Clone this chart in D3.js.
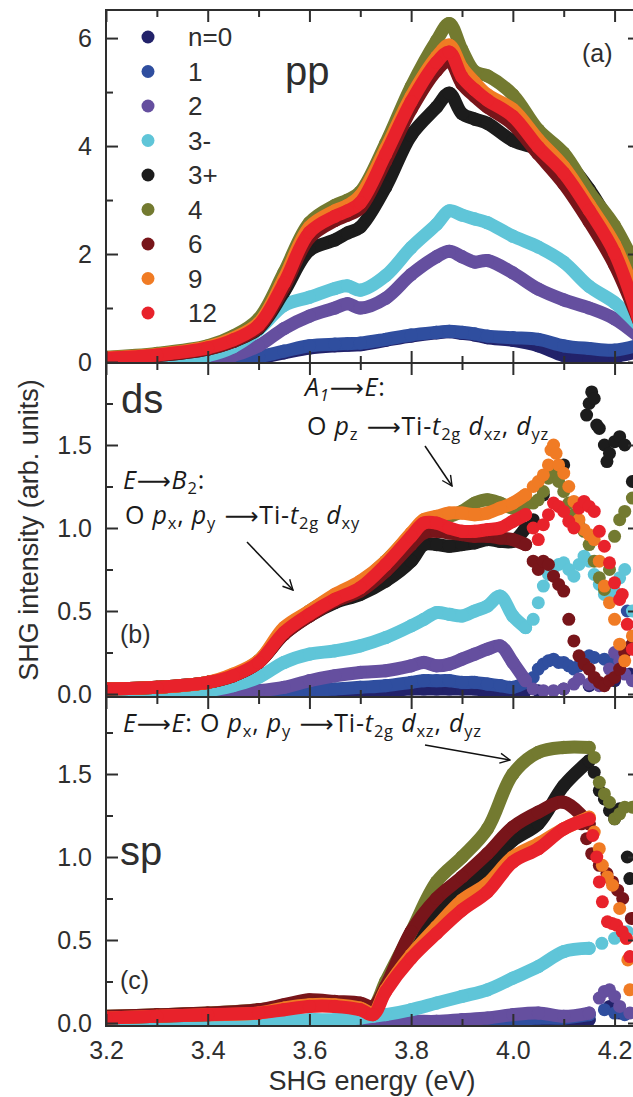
<!DOCTYPE html>
<html><head><meta charset="utf-8">
<script src="https://cdn.jsdelivr.net/npm/d3@7"></script>
<style>html,body{margin:0;padding:0;background:#fff;} svg{display:block;}</style>
</head><body><svg id="chart" width="633" height="1097"></svg>
<script>
// ---------------- DATA ----------------
const seriesNames  = ["n=0","1","2","3-","3+","4","6","9","12"];
const seriesColors = ["#22226a","#2f4e9f","#654f9f","#5fc5d8","#1c1c1c","#737a30","#78151a","#f07b24","#e8222b"];

const xTickLabels = ["3.2","3.4","3.6","3.8","4.0","4.2"];
const ppTickLabels = ["0","2","4","6"];
const dsTickLabels = ["0.0","0.5","1.0","1.5"];
const spTickLabels = ["0.0","0.5","1.0","1.5"];

// (a) pp
const energyPP = [3.20,3.30,3.40,3.45,3.50,3.55,3.60,3.65,3.675,3.70,3.75,3.80,3.85,3.875,3.90,3.925,3.95,4.00,4.05,4.10,4.15,4.20,4.25];
const ppValues = [
  [0.00,0.00,0.01,0.03,0.08,0.17,0.26,0.30,0.31,0.32,0.40,0.48,0.54,0.56,0.53,0.50,0.45,0.40,0.30,0.12,0.05,0.10,0.20], // n=0
  [0.00,0.00,0.02,0.04,0.10,0.20,0.30,0.33,0.34,0.35,0.42,0.50,0.55,0.57,0.55,0.52,0.48,0.45,0.42,0.30,0.25,0.22,0.32], // 1
  [0.00,0.02,0.06,0.12,0.30,0.62,0.85,1.00,1.08,1.00,1.18,1.62,1.95,2.05,1.95,1.85,1.88,1.65,1.35,1.15,1.00,0.80,0.45], // 2
  [0.02,0.05,0.12,0.28,0.60,1.05,1.20,1.36,1.41,1.33,1.60,2.12,2.55,2.80,2.72,2.65,2.58,2.33,2.13,1.85,1.40,1.10,0.65], // 3-
  [0.07,0.12,0.24,0.38,0.62,1.30,2.07,2.26,2.39,2.50,3.24,4.20,4.72,4.98,4.60,4.50,4.42,4.10,3.95,3.75,3.20,2.40,1.40], // 3+
  [0.09,0.16,0.30,0.48,0.80,1.66,2.58,2.90,3.00,3.15,4.05,5.10,5.95,6.27,5.78,5.38,5.30,4.95,4.30,3.87,3.15,2.52,1.60], // 4
  [0.07,0.12,0.24,0.38,0.64,1.38,2.30,2.62,2.72,2.85,3.72,4.68,5.40,5.58,5.15,4.92,4.72,4.40,3.85,3.30,2.60,1.80,0.70], // 6
  [0.08,0.14,0.28,0.44,0.72,1.55,2.50,2.80,2.90,3.08,3.95,4.92,5.65,5.87,5.45,5.18,4.95,4.68,4.12,3.62,2.92,2.18,1.00], // 9
  [0.07,0.13,0.26,0.41,0.68,1.46,2.40,2.70,2.80,2.95,3.85,4.82,5.55,5.74,5.28,5.04,4.85,4.55,3.98,3.50,2.81,2.02,0.70]  // 12
];

// (b) ds
const energyDS = [3.20,3.30,3.40,3.45,3.50,3.55,3.60,3.65,3.70,3.75,3.80,3.825,3.85,3.875,3.90,3.925,3.95,3.975,4.00,4.025];
const dsValues = [
  [0,0,0,0,0,0,0.01,0.01,0.02,0.02,0.03,0.03,0.03,0.03,0.03,0.03,0.02,0.02,0.02,0.02],
  [0,0,0,0,0,0.01,0.02,0.03,0.04,0.05,0.07,0.08,0.08,0.08,0.07,0.07,0.06,0.05,0.04,0.07],
  [0,0,0,0.01,0.02,0.04,0.08,0.11,0.13,0.14,0.17,0.19,0.17,0.18,0.21,0.24,0.27,0.29,0.19,0.08],
  [0,0.01,0.02,0.05,0.10,0.19,0.24,0.26,0.29,0.34,0.41,0.45,0.49,0.48,0.47,0.50,0.53,0.59,0.47,0.40],
  [0.03,0.04,0.07,0.11,0.19,0.36,0.47,0.55,0.60,0.68,0.80,0.90,0.90,0.89,0.90,0.91,0.93,0.92,0.92,1.00],
  [0.03,0.04,0.07,0.11,0.20,0.38,0.50,0.59,0.67,0.80,0.96,1.03,1.05,1.07,1.10,1.15,1.17,1.15,1.12,1.14],
  [0.03,0.04,0.07,0.11,0.19,0.36,0.47,0.56,0.62,0.74,0.90,0.97,0.98,0.97,0.96,0.95,0.95,0.94,0.93,0.90],
  [0.03,0.04,0.07,0.12,0.20,0.40,0.50,0.60,0.68,0.80,0.97,1.05,1.07,1.09,1.09,1.08,1.09,1.12,1.15,1.20],
  [0.03,0.04,0.07,0.11,0.19,0.37,0.48,0.57,0.64,0.78,0.95,1.03,1.03,1.00,0.98,0.98,0.99,1.00,1.04,1.08]
];
// scattered high-energy points (ds), [energy, intensity]
const dsScatter = [
  [[4.05,0.02],[4.10,0.03],[4.15,0.05],[4.20,0.08],[4.23,0.12]],
  [[4.04,0.10],[4.05,0.15],[4.06,0.18],[4.07,0.20],[4.08,0.21],[4.09,0.19],[4.10,0.19],[4.11,0.17],[4.12,0.15],[4.13,0.17],[4.14,0.20],[4.15,0.23],[4.16,0.22],[4.18,0.21],[4.20,0.19],[4.21,0.22],[4.225,0.50],[4.235,0.30]],
  [[4.04,0.03],[4.06,0.02],[4.08,0.02],[4.10,0.03],[4.12,0.06],[4.13,0.09],[4.15,0.06],[4.17,0.05],[4.19,0.15],[4.20,0.25],[4.21,0.20],[4.22,0.12],[4.235,0.08]],
  [[4.04,0.45],[4.05,0.55],[4.06,0.65],[4.07,0.72],[4.08,0.76],[4.09,0.78],[4.10,0.79],[4.11,0.75],[4.12,0.71],[4.13,0.78],[4.14,0.83],[4.15,0.80],[4.16,0.72],[4.17,0.66],[4.18,0.60],[4.19,0.58],[4.20,0.62],[4.21,0.70],[4.22,0.75],[4.235,0.50]],
  [[4.04,1.05],[4.06,1.20],[4.08,1.32],[4.10,1.38],[4.145,1.68],[4.15,1.75],[4.155,1.82],[4.16,1.78],[4.165,1.62],[4.17,1.60],[4.18,1.50],[4.185,1.40],[4.19,1.45],[4.20,1.52],[4.21,1.55],[4.22,1.50],[4.235,1.28]],
  [[4.04,1.15],[4.05,1.17],[4.06,1.22],[4.07,1.30],[4.08,1.34],[4.09,1.28],[4.10,1.22],[4.11,1.15],[4.12,1.08],[4.13,1.02],[4.14,0.98],[4.15,0.90],[4.16,0.80],[4.17,0.70],[4.18,0.63],[4.19,0.75],[4.20,0.95],[4.21,1.05],[4.22,1.10],[4.235,1.18]],
  [[4.04,0.80],[4.05,0.75],[4.06,0.80],[4.07,0.78],[4.08,0.71],[4.09,0.66],[4.10,0.62],[4.11,0.45],[4.12,0.32],[4.13,0.23],[4.14,0.18],[4.15,0.15],[4.16,0.10],[4.17,0.07],[4.18,0.05],[4.19,0.08],[4.20,0.10],[4.21,0.15],[4.22,0.25],[4.235,0.30]],
  [[4.04,1.25],[4.05,1.28],[4.06,1.32],[4.07,1.38],[4.075,1.47],[4.08,1.50],[4.085,1.45],[4.09,1.38],[4.10,1.33],[4.11,1.25],[4.12,1.16],[4.13,1.05],[4.14,0.99],[4.15,0.96],[4.16,0.93],[4.17,0.80],[4.18,0.65],[4.19,0.55],[4.20,0.45],[4.21,0.30],[4.22,0.20],[4.235,0.35]],
  [[4.04,1.00],[4.05,0.93],[4.06,1.02],[4.07,1.08],[4.08,1.15],[4.09,1.13],[4.10,1.10],[4.11,1.04],[4.12,1.00],[4.13,1.12],[4.14,1.16],[4.15,1.13],[4.16,1.10],[4.17,0.98],[4.18,0.89],[4.19,0.79],[4.20,0.67],[4.21,0.57],[4.215,0.60],[4.225,0.42],[4.235,0.27]]
];

// (c) sp
const energySP = [3.20,3.30,3.40,3.50,3.55,3.60,3.65,3.70,3.725,3.75,3.80,3.85,3.90,3.95,4.00,4.05,4.10,4.15];
const spValues = [
  [0,0,0,0,0,0,0,0,0,0,0,0,0,0,0.01,0.01,0.01,0.02],
  [0,0,0,0,0,0,0,0,0,0,0,0,0.01,0.01,0.02,0.03,0.03,0.05],
  [0,0,0,0,0,0,0,0,0,0,0.01,0.01,0.02,0.03,0.05,0.06,0.04,0.06],
  [0,0,0.01,0.01,0.01,0.02,0.02,0.03,0.04,0.05,0.08,0.12,0.16,0.20,0.27,0.34,0.43,0.45],
  [0.03,0.04,0.05,0.07,0.10,0.12,0.12,0.10,0.08,0.20,0.47,0.68,0.80,0.93,1.10,1.20,1.43,1.58],
  [0.04,0.05,0.06,0.08,0.10,0.13,0.12,0.11,0.10,0.25,0.55,0.85,1.00,1.17,1.50,1.63,1.66,1.66],
  [0.04,0.05,0.06,0.08,0.11,0.14,0.13,0.12,0.10,0.22,0.55,0.75,0.88,1.02,1.18,1.27,1.33,1.20],
  [0.03,0.04,0.05,0.06,0.09,0.11,0.11,0.09,0.06,0.20,0.41,0.58,0.74,0.84,1.00,1.08,1.17,1.24],
  [0.03,0.04,0.05,0.06,0.08,0.10,0.10,0.08,0.05,0.19,0.39,0.54,0.68,0.79,0.97,1.05,1.17,1.23]
];
const spScatter = [
  [[4.19,0.10],[4.21,0.06]],
  [[4.18,0.08],[4.20,0.06],[4.22,0.05]],
  [[4.17,0.15],[4.18,0.19],[4.19,0.20],[4.20,0.16],[4.21,0.10],[4.23,0.06]],
  [[4.175,0.48],[4.20,0.51],[4.225,0.55]],
  [[4.16,1.51],[4.17,1.40],[4.18,1.35],[4.19,1.28],[4.20,1.23],[4.21,1.29],[4.225,1.00],[4.23,0.87]],
  [[4.16,1.60],[4.17,1.45],[4.18,1.38],[4.19,1.33],[4.20,1.23],[4.21,1.26],[4.22,1.30],[4.235,1.30]],
  [[4.135,1.20],[4.145,1.11],[4.155,1.02],[4.17,0.95],[4.185,0.90],[4.196,0.85],[4.206,0.80],[4.216,0.75],[4.233,0.63]],
  [[4.16,1.15],[4.17,1.05],[4.176,0.95],[4.186,0.88],[4.196,0.83],[4.21,0.69],[4.223,0.51],[4.226,0.38],[4.23,0.20]],
  [[4.157,1.13],[4.165,1.00],[4.17,0.85],[4.176,0.73],[4.186,0.61],[4.195,0.60],[4.204,0.59],[4.215,0.55],[4.223,0.51],[4.23,0.40]]
];

// ---------------- DRAWING ----------------
const svg = d3.select("#chart");
svg.append("rect").attr("width",633).attr("height",1097).attr("fill","#fff");
const FONT = "'Liberation Sans', Arial, Helvetica, sans-serif";
const AFONT = "'Open Sans', Lato, sans-serif";
const INK = "#2e2e2e";

const x = d3.scaleLinear().domain([3.2, 4.25]).range([106, 640]);
const L = 106, R = 640;

const panels = [
  {id:"pp", top:10,  bottom:363, dom:[0,6.52], rng:[362,10],  energy:energyPP, vals:ppValues, scatter:null,
   major:[0,2,4,6], minor:[1,3,5], labels:ppTickLabels},
  {id:"ds", top:363, bottom:697, dom:[0,2.0],  rng:[694,362], energy:energyDS, vals:dsValues, scatter:dsScatter,
   major:[0,0.5,1,1.5], minor:[0.25,0.75,1.25,1.75], labels:dsTickLabels},
  {id:"sp", top:697, bottom:1026, dom:[0,1.97], rng:[1023,696], energy:energySP, vals:spValues, scatter:spScatter,
   major:[0,0.5,1,1.5], minor:[0.25,0.75,1.25,1.75], labels:spTickLabels}
];

const xMajor = [3.2,3.4,3.6,3.8,4.0,4.2];
const xMinor = [3.3,3.5,3.7,3.9,4.1];

const defs = svg.append("defs");
defs.append("marker").attr("id","arr").attr("viewBox","0 0 12 12").attr("refX",11).attr("refY",6)
  .attr("markerWidth",12).attr("markerHeight",12).attr("markerUnits","userSpaceOnUse").attr("orient","auto")
  .append("path").attr("d","M1,1 L11,6 L1,11").attr("fill","none").attr("stroke","#111").attr("stroke-width",1.4);

function styleAxis(g){
  g.select(".domain").remove();
  g.selectAll("line").attr("stroke",INK).attr("stroke-width",2);
  g.selectAll("text").attr("font-family",FONT).attr("font-size",25).attr("fill",INK);
}

panels.forEach((p,pi)=>{
  const y = d3.scaleLinear().domain(p.dom).range(p.rng);
  p.y = y;
  defs.append("clipPath").attr("id","clip"+pi).append("rect")
    .attr("x",L).attr("y",p.top).attr("width",R-L).attr("height",p.bottom-p.top);
  const g = svg.append("g").attr("clip-path","url(#clip"+pi+")");
  const line = d3.line().x(d=>x(d[0])).y(d=>y(d[1])).curve(d3.curveCatmullRom.alpha(0.5));
  p.vals.forEach((row,si)=>{
    const pts = p.energy.map((e,i)=>[e,row[i]]);
    g.append("path").datum(pts).attr("d",line).attr("fill","none")
      .attr("stroke",seriesColors[si]).attr("stroke-width",13)
      .attr("stroke-linecap","round").attr("stroke-linejoin","round");
    g.selectAll(null).data(pts).enter().append("circle")
      .attr("cx",d=>x(d[0])).attr("cy",d=>y(d[1])).attr("r",6.6).attr("fill",seriesColors[si]);
    if(p.scatter){
      g.selectAll(null).data(p.scatter[si]).enter().append("circle")
        .attr("cx",d=>x(d[0])).attr("cy",d=>y(d[1])).attr("r",6.5).attr("fill",seriesColors[si]);
    }
  });

  // axes (inward ticks)
  svg.append("g").attr("transform",`translate(${L},0)`)
    .call(d3.axisLeft(y).tickValues(p.major).tickSize(-12).tickPadding(14).tickFormat((d,i)=>p.labels[i])).call(styleAxis);
  svg.append("g").attr("transform",`translate(${L},0)`)
    .call(d3.axisLeft(y).tickValues(p.minor).tickSize(-7).tickFormat("")).call(styleAxis);
  svg.append("g").attr("transform",`translate(${R},0)`)
    .call(d3.axisRight(y).tickValues(p.major).tickSize(-12).tickFormat("")).call(styleAxis);
  svg.append("g").attr("transform",`translate(${R},0)`)
    .call(d3.axisRight(y).tickValues(p.minor).tickSize(-7).tickFormat("")).call(styleAxis);
  svg.append("g").attr("transform",`translate(0,${p.top})`)
    .call(d3.axisTop(x).tickValues(xMajor).tickSize(-12).tickFormat("")).call(styleAxis);
  svg.append("g").attr("transform",`translate(0,${p.top})`)
    .call(d3.axisTop(x).tickValues(xMinor).tickSize(-7).tickFormat("")).call(styleAxis);
  const last = pi===panels.length-1;
  svg.append("g").attr("transform",`translate(0,${p.bottom})`)
    .call(d3.axisBottom(x).tickValues(xMajor).tickSize(-12).tickPadding(15)
      .tickFormat((d,i)=> last ? xTickLabels[i] : "")).call(styleAxis);
  svg.append("g").attr("transform",`translate(0,${p.bottom})`)
    .call(d3.axisBottom(x).tickValues(xMinor).tickSize(-7).tickFormat("")).call(styleAxis);

  svg.append("rect").attr("x",L).attr("y",p.top).attr("width",R-L).attr("height",p.bottom-p.top)
    .attr("fill","none").attr("stroke",INK).attr("stroke-width",2);
});

// legend
const leg = svg.append("g");
seriesNames.forEach((n,i)=>{
  const cy = 37 + i*34.5;
  leg.append("circle").attr("cx",148).attr("cy",cy).attr("r",6.5).attr("fill",seriesColors[i]);
  leg.append("text").attr("x",188).attr("y",cy+9).text(n)
    .attr("font-family",FONT).attr("font-size",26).attr("fill",INK);
});

// panel labels
function txt(t,xx,yy,size){
  return svg.append("text").attr("x",xx).attr("y",yy).text(t)
    .attr("font-family",FONT).attr("font-size",size).attr("fill",INK);
}
txt("pp",285,85,40);
txt("ds",121,413,40);
txt("sp",120,865,40);
txt("(a)",582,62,25);
txt("(b)",120,643,25);
txt("(c)",120,989,25);

// axis titles
svg.append("text").attr("x",372).attr("y",1090).attr("text-anchor","middle").text("SHG energy (eV)")
  .attr("font-family",FONT).attr("font-size",27).attr("fill",INK);
svg.append("text").attr("transform","translate(38,530) rotate(-90)").attr("text-anchor","middle")
  .text("SHG intensity (arb. units)").attr("font-family",FONT).attr("font-size",27).attr("fill",INK);

// rich annotations
function rich(xx,yy,parts,size){
  const t = svg.append("text").attr("x",xx).attr("y",yy).attr("font-family",AFONT)
    .attr("font-size",size).attr("fill","#1a1a1a").attr("letter-spacing",0.8);
  let shifted = false;
  parts.forEach(([s,st])=>{
    const sp = t.append("tspan").text(s);
    const isSub = st.includes("s");
    if(st.includes("i")) sp.attr("font-style","italic");
    if(st.includes("a")) sp.attr("font-family","'DejaVu Sans', sans-serif").attr("font-size",size*0.95);
    if(isSub){ sp.attr("font-size",size*0.66); if(!shifted){sp.attr("dy",size*0.2); shifted=true;} }
    else if(shifted){ sp.attr("dy",-size*0.2); shifted=false; }
  });
  return t;
}
const AS = 25;
const ARW = "\u27F6";
rich(305,396,[["A","i"],["1","is"],[ARW,"a"],["E","i"],[":","n"]],AS);
rich(307,435,[["O ","n"],["p","i"],["z","s"],[" "+ARW,"a"],["Ti-","n"],["t","i"],["2g","s"],[" ","n"],["d","i"],["xz","s"],[", ","n"],["d","i"],["yz","s"]],AS);
rich(123,489,[["E","i"],[ARW,"a"],["B","i"],["2","s"],[":","n"]],AS);
rich(125,524,[["O ","n"],["p","i"],["x","s"],[", ","n"],["p","i"],["y","s"],[" "+ARW,"a"],["Ti-","n"],["t","i"],["2g","s"],[" ","n"],["d","i"],["xy","s"]],AS);
rich(123,732,[["E","i"],[ARW,"a"],["E","i"],[": O ","n"],["p","i"],["x","s"],[", ","n"],["p","i"],["y","s"],[" "+ARW,"a"],["Ti-","n"],["t","i"],["2g","s"],[" ","n"],["d","i"],["xz","s"],[", ","n"],["d","i"],["yz","s"]],AS);

function arrow(x1,y1,x2,y2){
  svg.append("line").attr("x1",x1).attr("y1",y1).attr("x2",x2).attr("y2",y2)
    .attr("stroke","#111").attr("stroke-width",1.5).attr("marker-end","url(#arr)");
}
arrow(425,446,452,486);
arrow(247,542,293,590);
arrow(425,745,510,760);
</script></body></html>
